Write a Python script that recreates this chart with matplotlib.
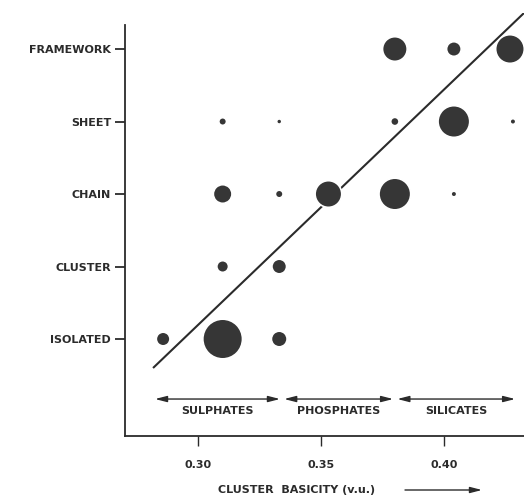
import matplotlib
matplotlib.use("Agg")
import matplotlib.pyplot as plt

# structure types (y levels, bottom to top)
structures = ["ISOLATED", "CLUSTER", "CHAIN", "SHEET", "FRAMEWORK"]

# observed points: cluster basicity (v.u.), structure index, relative frequency (circle area)
basicity = [0.2858, 0.310, 0.333,
            0.310, 0.333,
            0.310, 0.333, 0.353, 0.380, 0.404,
            0.310, 0.333, 0.380, 0.404, 0.428,
            0.380, 0.404, 0.4268]
level = [0, 0, 0,
         1, 1,
         2, 2, 2, 2, 2,
         3, 3, 3, 3, 3,
         4, 4, 4]
freq = [36, 361, 49,
        25, 42,
        72, 9, 156, 225, 4,
        9, 3, 11, 225, 4,
        132, 42, 182]

# trend line end points
trend_x = [0.2817, 0.4325]
trend_y = [-0.40, 4.497]

# anion groups along the basicity axis
groups = ["SULPHATES", "PHOSPHATES", "SILICATES"]
group_start = [0.2825, 0.335, 0.381]
group_end = [0.3333, 0.3793, 0.4289]

xticks = [0.30, 0.35, 0.40]
xtick_labels = ["0.30", "0.35", "0.40"]

INK = "#2b2b2b"
DOT = "#363636"
FONT = dict(family="DejaVu Sans", weight="bold", color=INK)
EDGE = 1.2  # white halo round the dots, in points

fig = plt.figure(figsize=(5.24, 4.97), dpi=100)
ax = fig.add_axes([125 / 524, 61 / 497, 399 / 524, 423 / 497])
ax.set_xlim(0.2703, 0.4325)
ax.set_ylim(-1.338, 4.497)

ax.plot(trend_x, trend_y, color=INK, lw=1.5, zorder=2, solid_capstyle="butt")
# marker diameter = dark disc (sqrt(freq) px radius) + the halo that eats into it
sizes = [(2 * 0.72 * f ** 0.5 + EDGE) ** 2 for f in freq]
ax.scatter(basicity, level, s=sizes, color=DOT,
           edgecolors="white", linewidths=EDGE, zorder=3)

for name, x0, x1 in zip(groups, group_start, group_end):
    ax.annotate("", xy=(x1, -0.828), xytext=(x0, -0.828),
                arrowprops=dict(arrowstyle="<|-|>,head_length=0.7,head_width=0.18",
                                color=INK, lw=1.0, shrinkA=0, shrinkB=0))
    ax.text((x0 + x1) / 2, -1.0, name, ha="center", va="center", fontsize=8, **FONT)

for side in ("top", "right"):
    ax.spines[side].set_visible(False)
ax.spines["left"].set_bounds(-1.338, 4.331)
for side in ("left", "bottom"):
    ax.spines[side].set_linewidth(1.3)
    ax.spines[side].set_color(INK)

ax.set_yticks(range(len(structures)))
ax.set_yticklabels(structures)
ax.set_xticks(xticks)
ax.set_xticklabels(xtick_labels)
ax.tick_params(axis="y", length=7, width=1.3, color=INK, pad=3)
ax.tick_params(axis="x", length=7, width=1.0, color=INK, pad=10)
for lab in ax.get_xticklabels() + ax.get_yticklabels():
    lab.set_fontsize(8)
    lab.set_fontweight("bold")
    lab.set_color(INK)

fig.text(297 / 524, 1 - 490 / 497, "CLUSTER  BASICITY (v.u.)", ha="center", va="center",
         fontsize=8, **FONT)
ax.annotate("", xy=(482 / 524, 1 - 490 / 497), xytext=(405 / 524, 1 - 490 / 497),
            xycoords="figure fraction", textcoords="figure fraction",
            arrowprops=dict(arrowstyle="-|>,head_length=0.7,head_width=0.18",
                            color=INK, lw=1.0, shrinkA=0, shrinkB=0))

fig.savefig("out.png", dpi=100)
